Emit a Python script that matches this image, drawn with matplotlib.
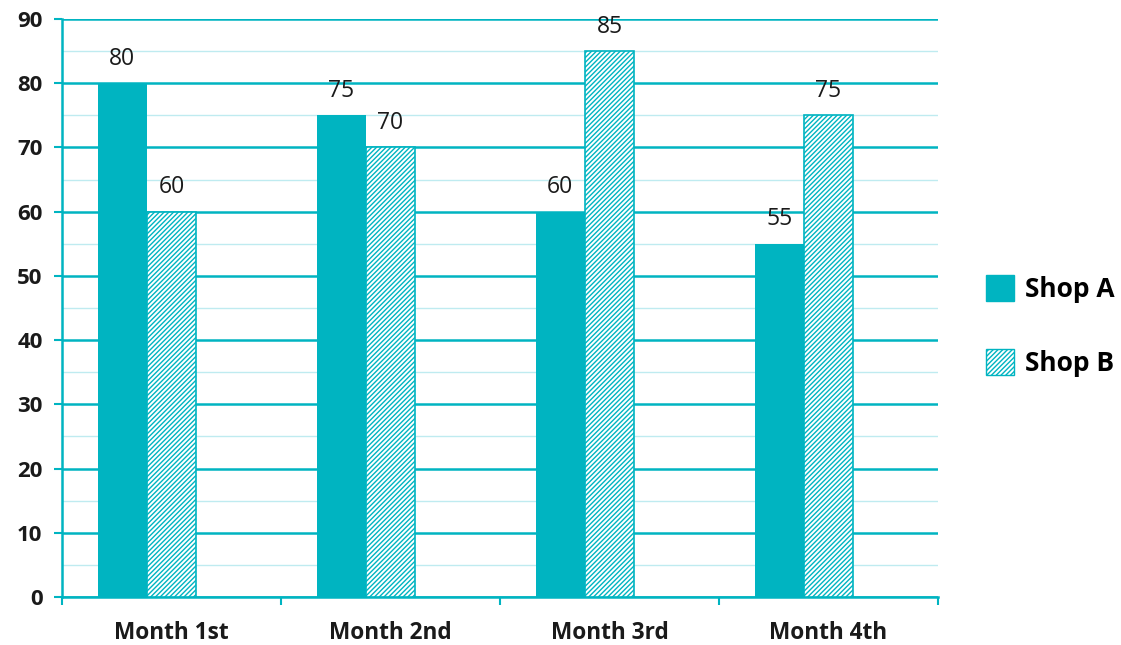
import matplotlib
matplotlib.use("Agg")
import matplotlib.pyplot as plt
import numpy as np
from matplotlib.patches import Patch

categories = ["Month 1st", "Month 2nd", "Month 3rd", "Month 4th"]
shop_a = [80, 75, 60, 55]
shop_b = [60, 70, 85, 75]
series_names = ["Shop A", "Shop B"]
y_ticks = [0, 10, 20, 30, 40, 50, 60, 70, 80, 90]

TEAL = "#00B4C1"
LIGHT = "#BFEBF0"
TXT = "#1a1a1a"

plt.rcParams['font.family'] = ['Open Sans', 'DejaVu Sans']
plt.rcParams['hatch.linewidth'] = 1.0

fig = plt.figure(figsize=(11.21, 6.45), dpi=100)
ax = fig.add_axes([62/1121, 1-597/645, (938-62)/1121, (597-19)/645])

x = np.arange(len(categories))
w = 0.225
HATCH = "///////"
ax.bar(x - w, shop_a, width=w, color=TEAL, edgecolor=TEAL, linewidth=0, zorder=3)
ax.bar(x, shop_b, width=w, color="white", edgecolor=TEAL, hatch=HATCH, linewidth=1.2, zorder=3)

for xi, v in zip(x - w, shop_a):
    ax.text(xi, v + 3.8, str(v), ha="center", va="center", fontsize=16.5, color=TXT, zorder=4)
for xi, v in zip(x, shop_b):
    ax.text(xi, v + 3.8, str(v), ha="center", va="center", fontsize=16.5, color=TXT, zorder=4)

ax.set_xlim(-0.5, len(categories) - 0.5)
ax.set_ylim(0, 90)
ax.set_yticks(y_ticks)
ax.set_yticks(np.arange(5, 90, 10), minor=True)
ax.set_yticklabels([str(t) for t in y_ticks], fontsize=16, fontweight="bold", color=TXT)
ax.yaxis.grid(True, which="major", color=TEAL, linewidth=1.8, zorder=0)
ax.yaxis.grid(True, which="minor", color=LIGHT, linewidth=1.0, zorder=0)
ax.set_axisbelow(True)

ax.set_xticks(x)
ax.set_xticklabels(categories, fontsize=16.3, fontweight="bold", color=TXT)
ax.tick_params(axis="x", which="major", length=0, pad=17)
ax.set_xticks(np.arange(-0.5, len(categories), 1.0), minor=True)
ax.tick_params(axis="x", which="minor", length=6, width=1.5, color=TEAL, direction="out")
ax.tick_params(axis="y", which="major", length=6, width=1.5, color=TEAL, pad=8)
ax.tick_params(axis="y", which="minor", length=0)

for s in ["top", "right"]:
    ax.spines[s].set_visible(False)
for s in ["left", "bottom"]:
    ax.spines[s].set_color(TEAL)
    ax.spines[s].set_linewidth(1.8)

handles = [Patch(facecolor=TEAL, edgecolor=TEAL, label=series_names[0]),
           Patch(facecolor="white", edgecolor=TEAL, hatch=HATCH, label=series_names[1])]
fig.legend(handles=handles, loc="center left", bbox_to_anchor=(962/1121, 1-326/645),
           frameon=False, handlelength=1.06, handleheight=1.14,
           labelspacing=1.72, handletextpad=0.42, prop={'weight': 'bold', 'size': 19})

fig.savefig("out.png", dpi=100)
